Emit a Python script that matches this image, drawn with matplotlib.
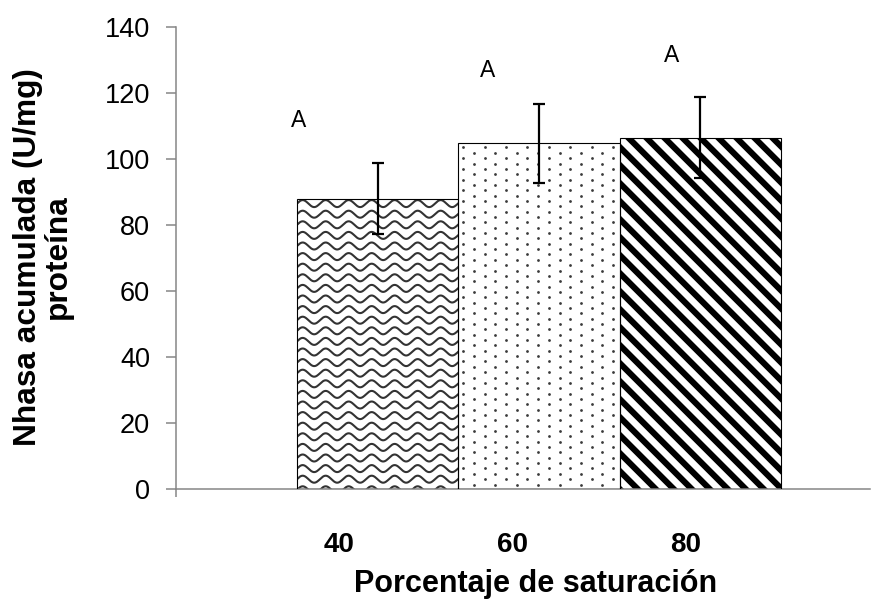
import numpy as np
import matplotlib
matplotlib.use('Agg')
from matplotlib import pyplot as plt

# Nhasa acumulada por porcentaje de saturación
saturation = ['40', '60', '80']
nhasa = [88.0, 104.7, 106.4]
nhasa_err = [10.8, 11.9, 12.3]
letters = ['A', 'A', 'A']
letter_y = [111.7, 126.9, 131.4]

plt.rcParams['font.family'] = ['Liberation Sans', 'DejaVu Sans']

axis_gray = '#868686'
bar_start = 0.697
bar_width = 0.93
letter_shift = [0.012, 0.166, 0.297]

fig = plt.figure(figsize=(8.94, 6), dpi=100)
ax = fig.add_axes([176 / 894, 111 / 600, 694 / 894, 462 / 600])
ax.set_xlim(0, 4)
ax.set_ylim(0, 140)
ax.set_autoscale_on(False)

lefts = bar_start + bar_width * np.arange(len(nhasa))
centers = lefts + bar_width / 2
bars = ax.bar(lefts, nhasa, width=bar_width, align='edge', color='white',
              edgecolor='none', zorder=1)
ax.bar(lefts, nhasa, width=bar_width, align='edge', fill=False,
       edgecolor='black', linewidth=0.8, zorder=3)

to_px = ax.transData
to_data = ax.transData.inverted()


def bar_box(bar):
    (x0, y0), (x1, y1) = to_px.transform(
        [[bar.get_x(), bar.get_y()],
         [bar.get_x() + bar.get_width(), bar.get_y() + bar.get_height()]])
    return x0, y0, x1, y1


def draw_lines(bar, segments, **kw):
    for seg in segments:
        pts = to_data.transform(seg)
        line, = ax.plot(pts[:, 0], pts[:, 1], zorder=2, **kw)
        line.set_clip_path(bar)


def wave_fill(bar):
    x0, y0, x1, y1 = bar_box(bar)
    xs = np.arange(x0 - 5, x1 + 5, 0.5)
    segs = []
    for yr in np.arange(y1 - 5, y0 - 8, -10.6):
        ys = yr + 3.5 * np.sin(2 * np.pi * (xs - x0) / 23.0)
        segs.append(np.column_stack([xs, ys]))
    draw_lines(bar, segs, color='#333333', lw=1.5)


def dot_fill(bar):
    x0, y0, x1, y1 = bar_box(bar)
    pts = []
    for k, xc in enumerate(np.arange(x0 + 5, x1, 10.7)):
        for yc in np.arange(y1 - 4 - (k % 2) * 5.35, y0, -10.7):
            pts.append((xc, yc))
    pts = to_data.transform(np.array(pts))
    sc = ax.scatter(pts[:, 0], pts[:, 1], s=4.0, color='#3a3a3a',
                    linewidths=0, zorder=2)
    sc.set_clip_path(bar)


def stripe_fill(bar):
    x0, y0, x1, y1 = bar_box(bar)
    segs = []
    for c in np.arange(x0 + y0, x1 + y1 + 20, 18.0):
        xs = np.array([x0 - 30, x1 + 30])
        segs.append(np.column_stack([xs, c - xs]))
    draw_lines(bar, segs, color='black', lw=4.4, solid_capstyle='butt')


for bar, fill in zip(bars, [wave_fill, dot_fill, stripe_fill]):
    fill(bar)

ax.errorbar(centers, nhasa, yerr=nhasa_err, fmt='none', ecolor='black',
            elinewidth=1.6, capsize=4.3, capthick=1.6, zorder=4)

for left, shift, txt, ly in zip(lefts, letter_shift, letters, letter_y):
    ax.text(left + shift, ly, txt, ha='center', va='center', fontsize=16.5,
            color='black')

# axes styling
for side in ['top', 'right']:
    ax.spines[side].set_visible(False)
for side in ['left', 'bottom']:
    ax.spines[side].set_color(axis_gray)
    ax.spines[side].set_linewidth(1.1)

ax.set_yticks(np.arange(0, 141, 20))
ax.tick_params(axis='y', direction='out', length=7.2, width=1.1,
               color=axis_gray, labelsize=19.5, pad=11.5)
ax.set_xticks(np.arange(len(saturation)) + 0.94)
ax.set_xticklabels(saturation, fontweight='bold')
ax.tick_params(axis='x', which='major', length=0, labelsize=20, pad=31)
ax.set_xticks([0], minor=True)
ax.tick_params(axis='x', which='minor', direction='out', length=6,
               width=1.1, color=axis_gray)

fig.text(536 / 894, 1 - 584 / 600, 'Porcentaje de saturación', ha='center',
         va='center', fontsize=22, fontweight='bold')
fig.text(43 / 894, 1 - 257 / 600, 'Nhasa acumulada (U/mg)\nproteína',
         rotation=90, ha='center', va='center', multialignment='center',
         fontsize=22.8, fontweight='bold', linespacing=1.0)

fig.savefig('out.png', dpi=100)
